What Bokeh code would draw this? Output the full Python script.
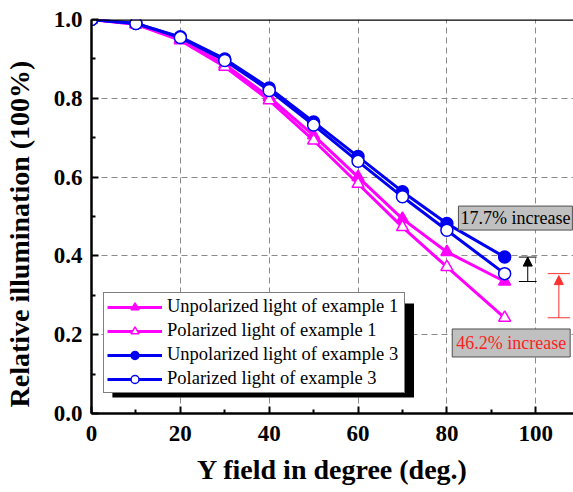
from bokeh.plotting import figure
from bokeh.models import (FixedTicker, NumeralTickFormatter, Legend, LegendItem, Span,
                          BoxAnnotation, Label, Arrow, NormalHead, ColumnDataSource)
from bokeh.embed import file_html
from bokeh.resources import INLINE

# ---- data ----
field_deg = [0, 10, 20, 30, 40, 50, 60, 70, 80, 93]
unpol_ex1 = [1.0, 0.988, 0.950, 0.886, 0.803, 0.706, 0.600, 0.494, 0.410, 0.335]
pol_ex1 = [1.0, 0.988, 0.947, 0.880, 0.795, 0.693, 0.583, 0.473, 0.372, 0.243]
unpol_ex3 = [1.0, 0.990, 0.956, 0.900, 0.826, 0.740, 0.652, 0.563, 0.482, 0.397]
pol_ex3 = [1.0, 0.990, 0.954, 0.896, 0.820, 0.732, 0.640, 0.550, 0.465, 0.355]

x_ticks = [0, 20, 40, 60, 80, 100]
x_minor = [10, 30, 50, 70, 90]
y_ticks = [0.0, 0.2, 0.4, 0.6, 0.8, 1.0]
y_minor = [0.1, 0.3, 0.5, 0.7, 0.9]

labels = ["Unpolarized light of example 1", "Polarized light of example 1",
          "Unpolarized light of example 3", "Polarized light of example 3"]
note_small = "17.7% increase"
note_large = "46.2% increase"

MAG = "#FF00FF"
BLUE = "#0000F0"
SERIF = "Liberation Serif"

p = figure(width=573, height=492, x_range=(0, 108.5), y_range=(0, 1.0),
           output_backend="svg", toolbar_location=None,
           min_border_left=89, min_border_top=19, min_border_bottom=79, min_border_right=0)
p.outline_line_color = None
p.background_fill_color = "white"
p.border_fill_color = "white"

# axes
for ax in (p.xaxis[0], p.yaxis[0]):
    ax.axis_line_width = 2.5
    ax.axis_line_color = "black"
    ax.major_tick_in = 7
    ax.major_tick_out = 0
    ax.minor_tick_in = 4
    ax.minor_tick_out = 0
    ax.major_tick_line_width = 2
    ax.minor_tick_line_width = 2
    ax.major_label_text_font = SERIF
    ax.major_label_text_font_style = "bold"
    ax.major_label_text_font_size = "23px"
    ax.major_label_text_color = "black"
    ax.axis_label_text_font = SERIF
    ax.axis_label_text_font_style = "bold"
    ax.axis_label_text_font_size = "28px"
    ax.axis_label_text_color = "black"

p.xaxis[0].ticker = FixedTicker(ticks=x_ticks, minor_ticks=x_minor)
p.yaxis[0].ticker = FixedTicker(ticks=y_ticks, minor_ticks=y_minor)
p.yaxis[0].formatter = NumeralTickFormatter(format="0.0")
p.xaxis[0].major_label_standoff = 12
p.yaxis[0].major_label_standoff = 9
p.xaxis[0].axis_label = "Y field in degree (deg.)"
# trailing no-break spaces shift the rotated title slightly downward, as in the original
p.yaxis[0].axis_label = "Relative illumination (100%)" + "\u00a0" * 5
p.xaxis[0].axis_label_standoff = 10
p.yaxis[0].axis_label_standoff = 16

# grid
p.xgrid.ticker = FixedTicker(ticks=x_ticks[1:])
p.ygrid.ticker = FixedTicker(ticks=y_ticks[1:-1])
for g in (p.xgrid[0], p.ygrid[0]):
    g.grid_line_color = "#8a8a8a"
    g.grid_line_dash = "6 4"
    g.grid_line_width = 1

# top frame line
p.add_layout(Span(location=1.0, dimension="width", line_color="black", line_width=2.5))

# series
r1l = p.line(field_deg, unpol_ex1, line_color=MAG, line_width=3)
r1m = p.scatter(field_deg, unpol_ex1, marker="triangle", size=12, fill_color=MAG,
                line_color=MAG, line_width=1.5)
r2l = p.line(field_deg, pol_ex1, line_color=MAG, line_width=3)
r2m = p.scatter(field_deg, pol_ex1, marker="triangle", size=12, fill_color="white",
                line_color=MAG, line_width=1.5)
r3l = p.line(field_deg, unpol_ex3, line_color=BLUE, line_width=3)
r3m = p.scatter(field_deg, unpol_ex3, marker="circle", size=12, fill_color=BLUE,
                line_color=BLUE, line_width=1.5)
r4l = p.line(field_deg, pol_ex3, line_color=BLUE, line_width=3)
r4m = p.scatter(field_deg, pol_ex3, marker="circle", size=12, fill_color="white",
                line_color=BLUE, line_width=1.5)

# increase markers (between last points)
xa_black = 98.2
xa_red = 105.2
seg_src = ColumnDataSource(dict(
    x0=[xa_black - 2, xa_black - 2, xa_red - 2.5, xa_red - 2.5],
    x1=[xa_black + 2, xa_black + 2, xa_red + 2.5, xa_red + 2.5],
    y0=[unpol_ex1[-1], unpol_ex3[-1], pol_ex1[-1], pol_ex3[-1]],
    y1=[unpol_ex1[-1], unpol_ex3[-1], pol_ex1[-1], pol_ex3[-1]],
    c=["black", "black", "#ff3030", "#ff3030"]))
p.segment(x0="x0", y0="y0", x1="x1", y1="y1", line_color="c", line_width=1, source=seg_src)
p.add_layout(Arrow(x_start=xa_black, y_start=unpol_ex1[-1], x_end=xa_black, y_end=unpol_ex3[-1],
                   line_color="black", line_width=1,
                   end=NormalHead(size=9, fill_color="black", line_color="black")))
p.add_layout(Arrow(x_start=xa_red, y_start=pol_ex1[-1], x_end=xa_red, y_end=pol_ex3[-1] - 0.005,
                   line_color="#ff3030", line_width=1,
                   end=NormalHead(size=9, fill_color="#ff3030", line_color="#ff3030")))

p.add_layout(Label(x=82.6, y=0.496, text=note_small, text_font=SERIF, text_font_size="18px",
                   text_color="black", text_baseline="middle",
                   background_fill_color="#c0c0c0", border_line_color="#505050",
                   border_line_width=1, padding=2))
p.add_layout(Label(x=81.2, y=0.179, text=note_large, text_font=SERIF, text_font_size="18px",
                   text_color="#ff2020", text_baseline="middle",
                   background_fill_color="#c0c0c0", border_line_color="#505050",
                   border_line_width=1, padding=4))

# legend shadow
p.add_layout(BoxAnnotation(left=4.7, right=72.6, top=0.2795, bottom=0.0407,
                           fill_color="black", fill_alpha=1, line_color=None, level="overlay"))

legend = Legend(items=[LegendItem(label=labels[0], renderers=[r1l, r1m]),
                       LegendItem(label=labels[1], renderers=[r2l, r2m]),
                       LegendItem(label=labels[2], renderers=[r3l, r3m]),
                       LegendItem(label=labels[3], renderers=[r4l, r4m])],
                location=(12, 20), label_text_font=SERIF, label_text_font_size="18.5px",
                label_text_color="black", border_line_color="black", border_line_width=1,
                background_fill_color="white", background_fill_alpha=1,
                padding=3, spacing=3, margin=0, glyph_width=55, glyph_height=20,
                label_height=20, label_width=234, label_standoff=5)
p.add_layout(legend)

open("out.html", "w").write(file_html(p, INLINE))
